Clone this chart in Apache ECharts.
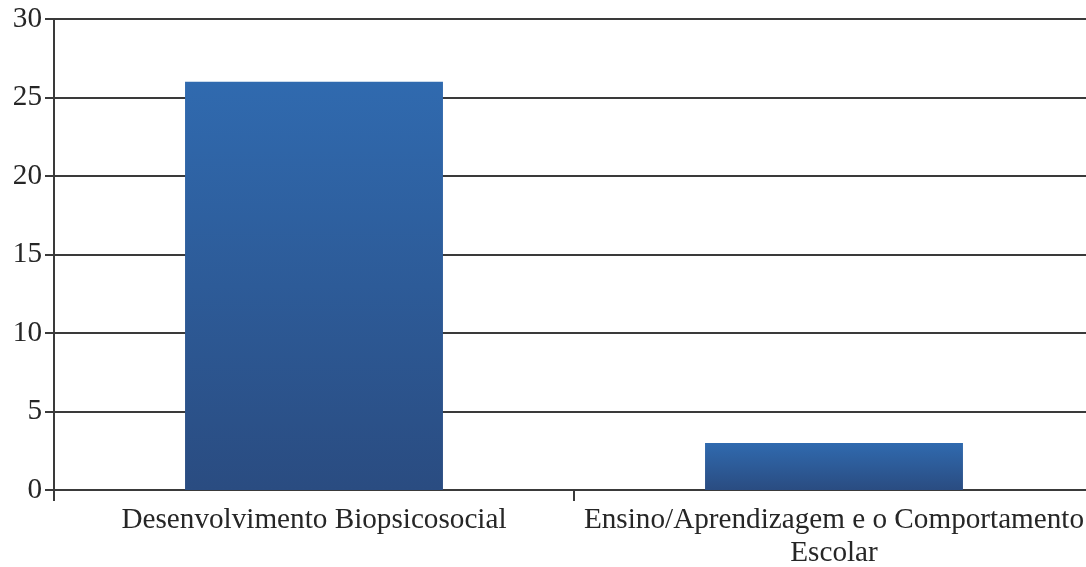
<!DOCTYPE html>
<html>
<head>
<meta charset="utf-8">
<script src="https://cdn.jsdelivr.net/npm/echarts@6/dist/echarts.min.js"></script>
<style>
  html, body { margin: 0; padding: 0; background: #fff; overflow: hidden; }
  #chart { width: 1086px; height: 567px; }
</style>
</head>
<body>
<div id="chart"></div>
<script>
// Categories (line break where the long label wraps)
const categories = [
  'Desenvolvimento Biopsicosocial',
  'Ensino/Aprendizagem e o Comportamento\nEscolar'
];
// Number of studies per category
const values = [26, 3];
// Value axis range
const yMin = 0;
const yMax = 30;
const yStep = 5;

const chart = echarts.init(document.getElementById('chart'), null, { renderer: 'canvas' });

const textStyle = {
  fontFamily: '"Liberation Serif", "DejaVu Serif", serif',
  fontSize: 29.2,
  color: '#262626'
};

chart.setOption({
  animation: false,
  backgroundColor: '#ffffff',
  // the plot area runs slightly past the right edge of the canvas
  grid: { left: 54, top: 19, width: 1040, height: 471, containLabel: false, outerBoundsMode: 'none' },
  xAxis: {
    type: 'category',
    data: categories,
    boundaryGap: true,
    axisLine: { show: true, lineStyle: { color: '#3a3a3a', width: 2 } },
    axisTick: { show: true, length: 11, lineStyle: { color: '#3a3a3a', width: 2 } },
    axisLabel: Object.assign({ margin: 14, lineHeight: 33, interval: 0, align: 'center' }, textStyle),
    splitLine: { show: false }
  },
  yAxis: {
    type: 'value',
    min: yMin,
    max: yMax,
    interval: yStep,
    axisLine: { show: true, lineStyle: { color: '#3a3a3a', width: 2 } },
    axisTick: { show: true, length: 9, lineStyle: { color: '#3a3a3a', width: 2 } },
    axisLabel: Object.assign({ margin: 12 }, textStyle),
    splitLine: { show: true, lineStyle: { color: '#3a3a3a', width: 2 } }
  },
  series: [{
    type: 'bar',
    data: values,
    barWidth: '49.6%',
    itemStyle: {
      color: new echarts.graphic.LinearGradient(0, 0, 0, 1, [
        { offset: 0, color: '#306aaf' },
        { offset: 1, color: '#2a4c81' }
      ])
    }
  }]
});
</script>
</body>
</html>
